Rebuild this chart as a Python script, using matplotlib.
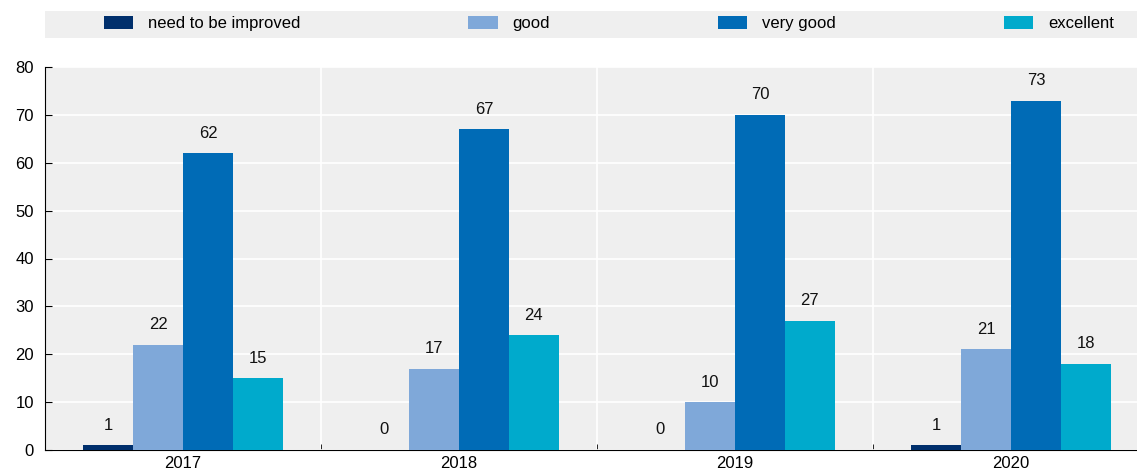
import matplotlib.pyplot as plt
import numpy as np
from matplotlib.patches import Rectangle

plt.rcParams['font.family'] = ['Liberation Sans Narrow', 'Liberation Sans', 'DejaVu Sans']

years = ['2017', '2018', '2019', '2020']
series = ['need to be improved', 'good', 'very good', 'excellent']
need_improved = [1, 0, 0, 1]
good = [22, 17, 10, 21]
very_good = [62, 67, 70, 73]
excellent = [15, 24, 27, 18]
colors = ['#002f6c', '#7fa8d9', '#006bb6', '#00aacc']

values = [need_improved, good, very_good, excellent]
x = np.arange(len(years))
w = 0.181

fig = plt.figure(figsize=(11.37, 4.71), dpi=100)
ax = fig.add_axes([45/1137, 21/471, 1104/1137, 383/471])
ax.set_facecolor('#efefef')

for i, (name, vals) in enumerate(zip(series, values)):
    pos = x + (i - 1.5)*w
    bars = ax.bar(pos, vals, w, color=colors[i], label=name, zorder=3)
    for b, v in zip(bars, vals):
        ax.annotate(str(v), xy=(b.get_x()+w/2, v), xytext=(0, 9), textcoords='offset points',
                    ha='center', va='bottom', fontsize=12, color='#111111')

ax.set_xlim(-0.5, 3.5)
ax.set_ylim(0, 80)
ax.set_yticks(range(0, 81, 10))
ax.set_xticks(x)
ax.set_xticklabels(years)
ax.set_xticks([0.5, 1.5, 2.5], minor=True)
ax.tick_params(axis='x', which='major', length=0, labelsize=12, pad=4)
ax.tick_params(axis='x', which='minor', direction='in', length=4)
ax.tick_params(axis='y', direction='in', length=5, labelsize=12, pad=8)
ax.grid(axis='y', color='white', lw=1.2, zorder=1)
ax.grid(axis='x', which='minor', color='white', lw=1.2, zorder=1)
for s in ['top', 'right']:
    ax.spines[s].set_visible(False)
ax.spines['left'].set_color('black')
ax.spines['bottom'].set_color('black')

# grey legend band
fig.patches.append(Rectangle((45/1137, 433/471), 1092/1137, 27/471, transform=fig.transFigure,
                             facecolor='#efefef', edgecolor='none', zorder=0))
leg = fig.legend(loc='center left', bbox_to_anchor=(104/1137, 434/471, 1010/1137, 27/471),
                 mode='expand', ncol=4, frameon=False, fontsize=12,
                 handlelength=1.75, handleheight=0.85, handletextpad=0.9, borderaxespad=0,
                 borderpad=0)

fig.savefig('out.png', dpi=100)
